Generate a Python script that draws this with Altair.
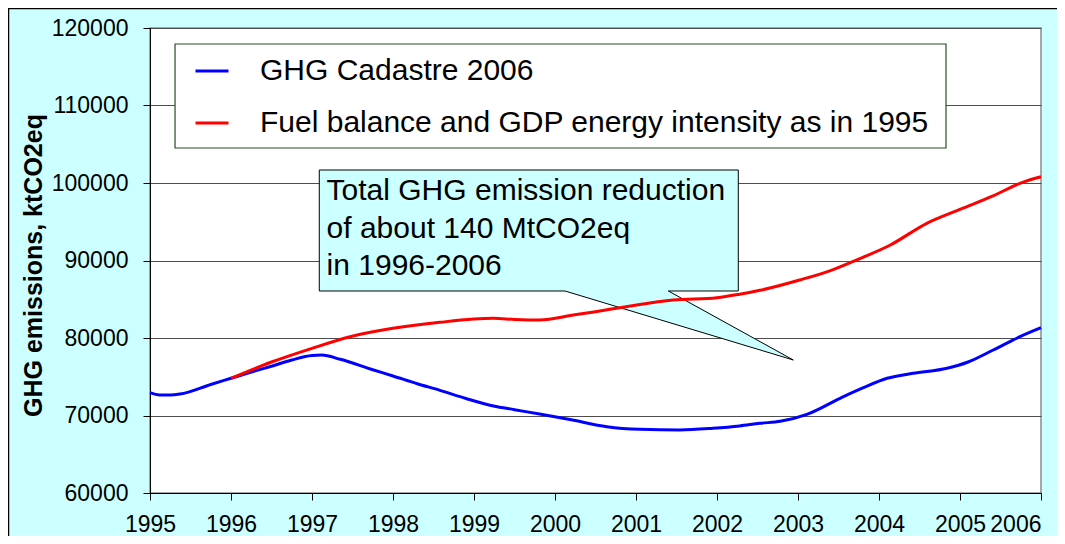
import altair as alt
import pandas as pd

# ---- data ----
series_names = ["GHG Cadastre 2006", "Fuel balance and GDP energy intensity as in 1995"]
series_colors = ["#0000FF", "#FF0000"]

years_cadastre = [1995.00, 1995.12, 1995.25, 1995.37, 1995.75, 1996.00, 1996.25, 1996.50, 1996.75,
                  1997.00, 1997.12, 1997.35, 1997.75, 1998.00, 1998.30, 1998.58, 1998.90, 1999.24,
                  1999.50, 1999.81, 2000.20, 2000.64, 2001.05, 2001.54, 2001.95, 2002.28, 2002.53,
                  2002.78, 2003.11, 2003.52, 2003.80, 2004.10, 2004.42, 2004.84, 2005.10, 2005.41,
                  2005.74, 2006.00]
values_cadastre = [72950, 72650, 72650, 72770, 74000, 74800, 75600, 76360, 77160,
                   77750, 77800, 77250, 75900, 75100, 74100, 73250, 72200, 71230,
                   70750, 70190, 69450, 68560, 68220, 68130, 68350, 68650, 68990,
                   69250, 70150, 72220, 73550, 74800, 75440, 76090, 76900, 78450,
                   80170, 81330]

years_baseline = [1996.00, 1996.50, 1997.00, 1997.47, 1998.00, 1998.58, 1999.24, 1999.50, 1999.81,
                  2000.23, 2000.50, 2000.88, 2001.46, 2002.00, 2002.28, 2002.53, 2003.02, 2003.40,
                  2003.72, 2004.14, 2004.59, 2005.00, 2005.40, 2005.74, 2006.00]
values_baseline = [74800, 76900, 78670, 80170, 81250, 82030, 82540, 82400, 82320,
                   82970, 83400, 84040, 84900, 85200, 85650, 86150, 87480, 88700,
                   90060, 92000, 94800, 96600, 98300, 99960, 100800]

x_ticks = list(range(1995, 2007))
y_ticks = list(range(60000, 120001, 10000))

callout_lines = ["Total GHG emission reduction", "of about 140 MtCO2eq", "in 1996-2006"]
# callout anchor positions in data units (year, ktCO2eq)
callout_text_x = 1997.18
callout_text_y = [97806, 92903, 88129]
callout_box = dict(x1=1997.090, x2=2002.263, y1=86065, y2=101677)
pointer_base = [2000.123, 2001.399]
pointer_tip = (2002.942, 77161)
legend_box = dict(x1=1995.309, x2=2004.827, y1=104516, y2=117935)

# ---- tables ----
lines_df = pd.concat([
    pd.DataFrame({"series": series_names[0], "year": years_cadastre, "value": values_cadastre}),
    pd.DataFrame({"series": series_names[1], "year": years_baseline, "value": values_baseline}),
])

bx1, bx2, by1, by2 = callout_box["x1"], callout_box["x2"], callout_box["y1"], callout_box["y2"]
tx, ty = pointer_tip
slope = (ty - by1) / (tx - pointer_base[0])
mid_low = by1 + slope * (pointer_base[1] - pointer_base[0])
pointer_fill_df = pd.DataFrame({
    "x": [pointer_base[0], pointer_base[1], tx],
    "y": [by1, mid_low, ty],
    "y2": [by1 + 150, by1 + 150, ty],
})
outline_df = pd.DataFrame({
    "x": [pointer_base[0], bx1, bx1, bx2, bx2, pointer_base[1], tx, pointer_base[0]],
    "y": [by1, by1, by2, by2, by1, by1, ty, by1],
    "o": list(range(8)),
})
box_df = pd.DataFrame([callout_box])
legend_box_df = pd.DataFrame([legend_box])
text_df = pd.DataFrame({"x": callout_text_x, "y": callout_text_y, "t": callout_lines})

FONT = "Liberation Sans"
CYAN = "#CCFFFF"

xscale = alt.Scale(domain=[1995, 2006], nice=False, zero=False)
yscale = alt.Scale(domain=[60000, 120000], nice=False, zero=False)

x_enc = alt.X("year:Q", scale=xscale, axis=alt.Axis(
    values=x_ticks, format="d", title=None, grid=False,
    labelFontSize=23, labelFont=FONT, labelColor="#000000", labelPadding=13,
    labelAlign=alt.expr("datum.value == 2006 ? 'right' : 'center'"),
    tickSize=7, tickColor="#000000", domainColor="#000000", labelFlush=False))
y_enc = alt.Y("value:Q", scale=yscale, axis=alt.Axis(
    values=y_ticks, format="d", title="GHG emissions, ktCO2eq",
    labelFontSize=23, labelFont=FONT, labelColor="#000000", labelPadding=15,
    tickSize=7, tickColor="#000000", domainColor="#000000",
    grid=True, gridColor="#4d4d4d", gridWidth=1,
    titleFont=FONT, titleFontSize=25, titleFontWeight="bold", titleColor="#000000",
    titleX=-117, titleY=237, titleBaseline="middle", titleAngle=270))

legend_frame = alt.Chart(legend_box_df).mark_rect(
    fill="#FFFFFF", stroke="#264d26", strokeWidth=1.2).encode(
    x=alt.X("x1:Q", scale=xscale), x2="x2:Q",
    y=alt.Y("y1:Q", scale=yscale), y2="y2:Q")

pointer_fill = alt.Chart(pointer_fill_df).mark_area(color=CYAN, opacity=1).encode(
    x=alt.X("x:Q", scale=xscale), y=alt.Y("y:Q", scale=yscale), y2="y2:Q")

box = alt.Chart(box_df).mark_rect(fill=CYAN).encode(
    x=alt.X("x1:Q", scale=xscale), x2="x2:Q",
    y=alt.Y("y1:Q", scale=yscale), y2="y2:Q")

outline = alt.Chart(outline_df).mark_line(color="#000000", strokeWidth=1).encode(
    x=alt.X("x:Q", scale=xscale), y=alt.Y("y:Q", scale=yscale), order="o:Q")

texts = alt.Chart(text_df).mark_text(
    align="left", baseline="alphabetic", font=FONT, fontSize=30, color="#000000").encode(
    x=alt.X("x:Q", scale=xscale), y=alt.Y("y:Q", scale=yscale), text="t:N")

lines = alt.Chart(lines_df).mark_line(strokeWidth=3, interpolate="monotone").encode(
    x=x_enc, y=y_enc,
    color=alt.Color("series:N",
                    scale=alt.Scale(domain=series_names, range=series_colors),
                    sort=series_names,
                    legend=alt.Legend(
                        title=None, orient="none", legendX=44, legendY=25,
                        symbolType="stroke", symbolSize=1089, symbolStrokeWidth=3,
                        labelFont=FONT, labelFontSize=30, labelColor="#000000",
                        labelOffset=30, labelLimit=900, rowPadding=19, padding=0)),
)

border_top = alt.Chart(legend_box_df).mark_rule(color="#000000", strokeWidth=1.5).encode(
    x=alt.value(-142), x2=alt.value(1000), y=alt.value(-19.5))
border_left = alt.Chart(legend_box_df).mark_rule(color="#000000", strokeWidth=1.5).encode(
    x=alt.value(-141.5), y=alt.value(-20), y2=alt.value(520))

chart = alt.layer(
    lines.mark_line(opacity=0),  # establishes axes first
    legend_frame, pointer_fill, box, outline, texts, lines, border_top, border_left
).properties(
    width=891, height=465,
    padding={"left": 142, "top": 20, "right": 16, "bottom": 43},
    autosize=alt.AutoSizeParams(type="none"),
    background=CYAN,
).configure_view(
    fill="#FFFFFF", stroke="#8c8c8c", strokeWidth=1.5
)

chart.save("out.html", embed_options={"renderer": "svg", "actions": False})
